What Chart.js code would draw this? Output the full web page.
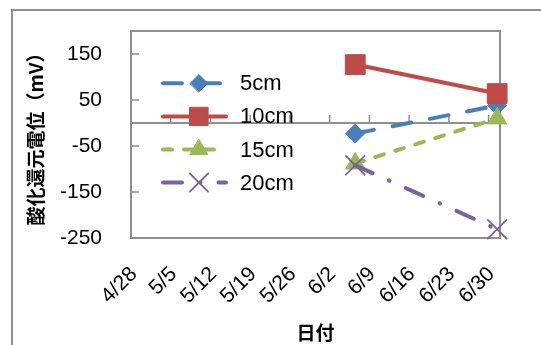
<!DOCTYPE html>
<html>
<head>
<meta charset="utf-8">
<script src="https://cdn.jsdelivr.net/npm/chart.js@4.4.0/dist/chart.umd.min.js"></script>
<style>
  html, body { margin: 0; padding: 0; background: #fff; }
  #wrap { width: 541px; height: 345px; }
</style>
</head>
<body>
<div id="wrap"><canvas id="orp"></canvas></div>
<script>
// data
const startDate = '4/28';
const xTickLabels = ['4/28', '5/5', '5/12', '5/19', '5/26', '6/2', '6/9', '6/16', '6/23', '6/30'];
const yTickValues = [-250, -150, -50, 50, 150];
const seriesNames = ['5cm', '10cm', '15cm', '20cm'];
const sampleDates = ['6/6', '7/1'];
const orp5 = [-23, 38];
const orp10 = [127, 64];
const orp15 = [-88, 10];
const orp20 = [-92, -231];
const seriesValues = [orp5, orp10, orp15, orp20];

function dayIndex(md) {
    const [m, d] = md.split('/').map(Number);
    const [m0, d0] = startDate.split('/').map(Number);
    return Math.round((Date.UTC(2015, m - 1, d) - Date.UTC(2015, m0 - 1, d0)) / 86400000);
}

const styles = [
    { color: '#4A7EBB', dash: [19, 19], point: 'rectRot', radius: 9.5, pbw: 1 },
    { color: '#BE4B48', dash: [], point: 'rect', radius: 14, pbw: 1 },
    { color: '#98B954', dash: [9, 12], point: 'triangle', radius: 11, pbw: 1 },
    { color: '#7D60A0', dash: [19, 18, 0.5, 18], point: 'crossRot', radius: 14, pbw: 1.8 }
];

const tickFont = { family: '"Liberation Sans", Arial, sans-serif', size: 21 };
const titleFont = { family: '"Noto Sans CJK JP", sans-serif', size: 19, weight: 'bold' };
const axisGray = '#8f8f8f';

const frame = {
    id: 'frame',
    beforeDraw(chart) {
        const ctx = chart.ctx;
        ctx.save();
        ctx.strokeStyle = axisGray;
        ctx.lineWidth = 2;
        ctx.beginPath();
        ctx.moveTo(12, 345);
        ctx.lineTo(12, 10);
        ctx.lineTo(541, 10);
        ctx.stroke();
        ctx.restore();
    },
    beforeDatasetsDraw(chart) {
        const ctx = chart.ctx;
        const a = chart.chartArea;
        const xs = chart.scales.x, ys = chart.scales.y;
        ctx.save();
        ctx.strokeStyle = axisGray;
        ctx.lineWidth = 2;
        ctx.strokeRect(a.left, a.top, a.right - a.left, a.bottom - a.top);
        // zero line
        const y0 = ys.getPixelForValue(0);
        ctx.beginPath();
        ctx.moveTo(a.left, y0);
        ctx.lineTo(a.right, y0);
        ctx.stroke();
        ctx.lineWidth = 1.5;
        ctx.beginPath();
        yTickValues.forEach(v => {
            const y = ys.getPixelForValue(v);
            ctx.moveTo(a.left, y);
            ctx.lineTo(a.left + 8, y);
        });
        xTickLabels.slice(1).forEach(l => {
            const x = xs.getPixelForValue(dayIndex(l) - 0.5);
            ctx.moveTo(x, y0);
            ctx.lineTo(x, y0 - 8);
        });
        ctx.stroke();
        ctx.restore();
    },
    afterDraw(chart) {
        // legend inside plot area
        const ctx = chart.ctx;
        ctx.save();
        chart.data.datasets.forEach((ds, i) => {
            const s = styles[i];
            const y = 83.3 + i * 33.1;
            ctx.strokeStyle = s.color;
            ctx.fillStyle = s.color;
            ctx.lineWidth = ds.borderWidth;
            ctx.lineCap = 'round';
            ctx.setLineDash(s.dash);
            ctx.beginPath();
            ctx.moveTo(163, y);
            ctx.lineTo(226, y);
            ctx.stroke();
            ctx.setLineDash([]);
            ctx.lineWidth = s.pbw;
            Chart.helpers.drawPoint(ctx, { pointStyle: s.point, radius: s.radius * 0.92, rotation: 0, borderWidth: s.pbw }, 199, y);
            ctx.fillStyle = '#000';
            ctx.font = '22px "Liberation Sans", Arial, sans-serif';
            ctx.textBaseline = 'middle';
            ctx.textAlign = 'left';
            ctx.fillText(ds.label, 240, y + 1);
        });
        ctx.restore();
    }
};

new Chart(document.getElementById('orp'), {
    type: 'line',
    data: {
        datasets: seriesNames.map((name, i) => ({
            label: name,
            data: sampleDates.map((d, j) => ({ x: dayIndex(d), y: seriesValues[i][j] })),
            borderColor: styles[i].color,
            backgroundColor: styles[i].color,
            borderWidth: 4,
            borderDash: styles[i].dash,
            borderCapStyle: 'round',
            borderJoinStyle: 'round',
            pointStyle: styles[i].point,
            pointRadius: styles[i].radius,
            pointBackgroundColor: styles[i].color,
            pointBorderColor: styles[i].color,
            pointBorderWidth: styles[i].pbw,
            order: -i,
            clip: false
        }))
    },
    options: {
        responsive: true,
        maintainAspectRatio: false,
        animation: false,
        layout: { padding: { top: 31, right: 41, left: 0, bottom: 0 } },
        plugins: {
            legend: { display: false },
            tooltip: { enabled: false }
        },
        scales: {
            x: {
                type: 'linear',
                min: -0.5,
                max: 64.5,
                afterBuildTicks: scale => {
                    scale.ticks = xTickLabels.map(l => ({ value: dayIndex(l) }));
                },
                afterFit: scale => { scale.height = 107; },
                // tick marks are drawn by the plugin; tickLength only spaces the labels
                grid: { display: false, drawTicks: true, tickLength: 24 },
                border: { display: false },
                ticks: {
                    autoSkip: false,
                    minRotation: 45,
                    maxRotation: 45,
                    padding: 0,
                    color: '#000',
                    font: tickFont,
                    callback: v => xTickLabels.find(l => dayIndex(l) === v) || ''
                },
                title: {
                    display: true,
                    text: '日付',
                    color: '#000',
                    font: titleFont,
                    padding: { top: 0, bottom: 1 }
                }
            },
            y: {
                min: -250,
                max: 200,
                afterBuildTicks: scale => {
                    scale.ticks = yTickValues.map(v => ({ value: v }));
                },
                afterFit: scale => { scale.width = 131; },
                grid: { display: false, drawTicks: true, tickLength: 29 },
                border: { display: false },
                ticks: {
                    padding: 0,
                    color: '#000',
                    font: tickFont
                },
                title: {
                    display: true,
                    text: '酸化還元電位（mV）',
                    color: '#000',
                    font: titleFont,
                    padding: { top: 24, bottom: 0 }
                }
            }
        }
    },
    plugins: [frame]
});
</script>
</body>
</html>
